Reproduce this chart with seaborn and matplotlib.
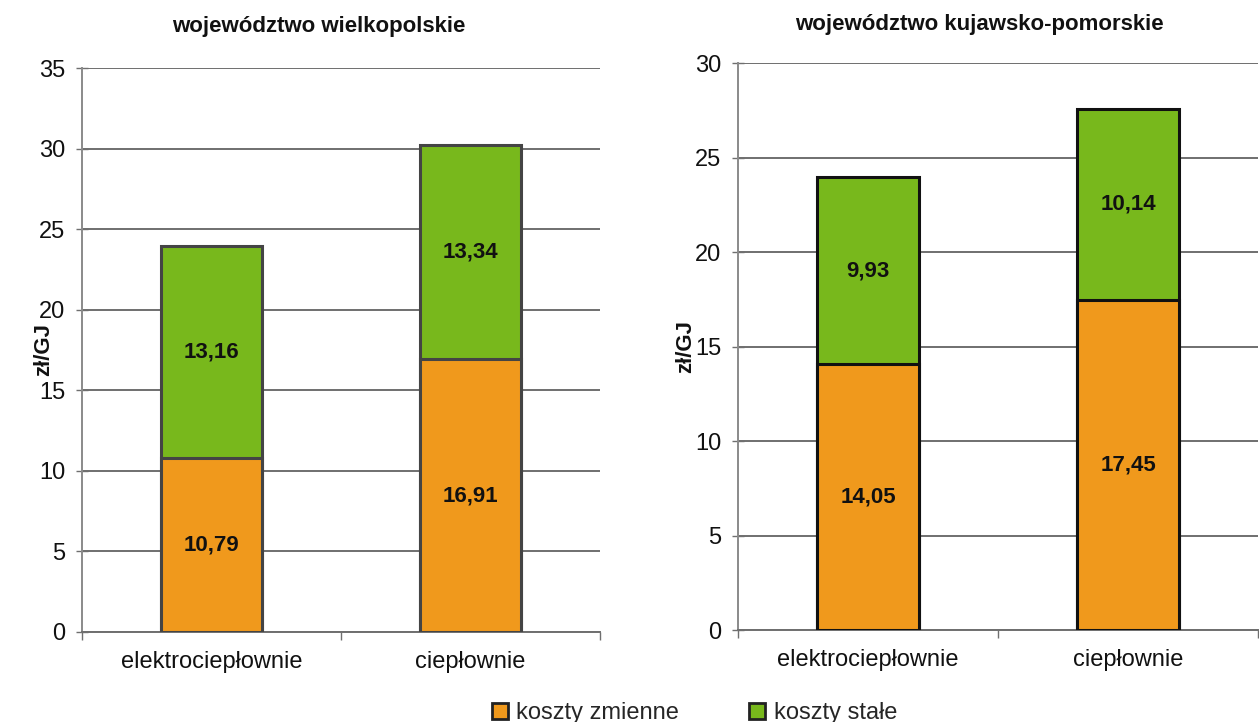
import matplotlib
matplotlib.use("Agg")
import matplotlib.pyplot as plt
from matplotlib.lines import Line2D
import seaborn as sns
import pandas as pd

# Cost structure of heat production (zł/GJ) in two voivodeships
categories = ["elektrociepłownie", "ciepłownie"]
regions = ["województwo wielkopolskie", "województwo kujawsko-pomorskie"]
variable_costs = {
    "województwo wielkopolskie": [10.79, 16.91],
    "województwo kujawsko-pomorskie": [14.05, 17.45],
}
fixed_costs = {
    "województwo wielkopolskie": [13.16, 13.34],
    "województwo kujawsko-pomorskie": [9.93, 10.14],
}
y_limits = {"województwo wielkopolskie": 35, "województwo kujawsko-pomorskie": 30}
series_names = ["koszty zmienne", "koszty stałe"]

ORANGE = "#F0991C"
GREEN = "#78B81C"

sns.set_theme(style="white")
plt.rcParams["font.family"] = ["Liberation Sans", "DejaVu Sans"]

fig = plt.figure(figsize=(12.59, 7.22), dpi=100)
axes_rects = [
    [0.0651, 0.1247, 0.4114, 0.7811],
    [0.5862, 0.1274, 0.4130, 0.7853],
]
edge_colors = ["#444444", "#111111"]
ylabel_x = [-0.054, -0.081]
title_x = [0.457, 0.465]
title_pads = [26, 24]

for region, rect, ec, lx, tx, tpad in zip(regions, axes_rects, edge_colors,
                                          ylabel_x, title_x, title_pads):
    ax = fig.add_axes(rect)
    df = pd.DataFrame({
        "kategoria": categories,
        "zmienne": variable_costs[region],
        "stale": fixed_costs[region],
    })
    df["suma"] = df["zmienne"] + df["stale"]

    ymax = y_limits[region]
    ax.set_ylim(0, ymax)
    ax.set_yticks(range(0, ymax + 1, 5))
    ax.yaxis.grid(True, color="#6f6f6f", linewidth=1.4)
    ax.set_axisbelow(True)

    # stacked bars: full height in green, variable part in orange on top
    sns.barplot(data=df, x="kategoria", y="suma", color=GREEN, width=0.39,
                saturation=1, edgecolor=ec, linewidth=2.2, ax=ax, zorder=2)
    sns.barplot(data=df, x="kategoria", y="zmienne", color=ORANGE, width=0.39,
                saturation=1, edgecolor=ec, linewidth=2.2, ax=ax, zorder=3)
    ax.set_xlim(-0.5, 1.5)

    for i, row in df.iterrows():
        ax.text(i, row["zmienne"] / 2, f"{row['zmienne']:.2f}".replace(".", ","),
                ha="center", va="center", fontsize=16, fontweight="bold",
                color="#111111", zorder=5)
        ax.text(i, row["zmienne"] + row["stale"] / 2,
                f"{row['stale']:.2f}".replace(".", ","),
                ha="center", va="center", fontsize=16, fontweight="bold",
                color="#111111", zorder=5)

    for side in ["top", "right"]:
        ax.spines[side].set_visible(False)
    ax.spines["left"].set_color("#8a8a8a")
    ax.spines["bottom"].set_color("#6f6f6f")
    ax.spines["left"].set_linewidth(1.4)
    ax.spines["bottom"].set_linewidth(1.4)

    ax.tick_params(axis="y", which="major", direction="inout", length=8,
                   width=1, color="#6f6f6f", labelsize=17, pad=8,
                   left=True, labelcolor="#111111")
    ax.tick_params(axis="x", which="major", length=0, labelsize=17, pad=14,
                   labelcolor="#111111")
    ax.set_xticks([-0.5, 0.5, 1.5], minor=True)
    ax.tick_params(axis="x", which="minor", direction="out", length=6,
                   width=1, color="#6f6f6f", bottom=True)

    ax.set_xlabel("")
    ax.set_ylabel("zł/GJ", fontsize=16, fontweight="bold", color="#111111")
    ax.yaxis.set_label_coords(lx, 0.5)
    ax.set_title(region, fontsize=16, fontweight="bold", pad=tpad,
                 color="#111111", x=tx)

handles = [
    Line2D([], [], marker="s", linestyle="none", markersize=11,
           markerfacecolor=c, markeredgecolor="#222222", markeredgewidth=2)
    for c in [ORANGE, GREEN]
]
fig.legend(handles, series_names, loc="center", ncol=2,
           bbox_to_anchor=(0.55, 0.012), frameon=False, fontsize=17,
           handletextpad=0.2, columnspacing=2.8, handlelength=1.0,
           borderpad=0.1)

fig.savefig("out.png", dpi=100, facecolor="white")
